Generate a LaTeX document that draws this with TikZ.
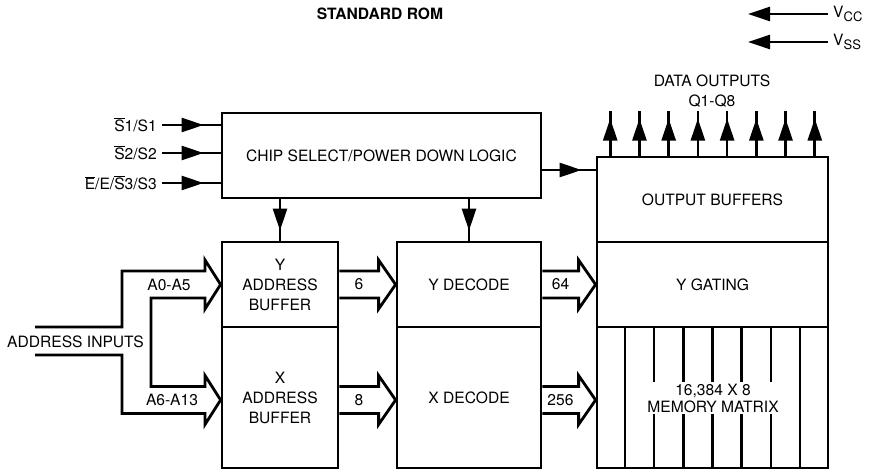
\documentclass[tikz,border=0pt]{standalone}
\usepackage{fontspec}
\setmainfont{TeX Gyre Heros}
\usetikzlibrary{arrows.meta, positioning, calc, decorations.markings}

% hollow bus arrow: from #1 to #2, node name #3, label #4
\newcommand{\busarrow}[4]{%
  \draw[bus] let \p1=(#1), \p2=(#2) in
    (\x1,\y2+13.5pt) -- (\x2-17pt,\y2+13.5pt) -- (\x2-17pt,\y2+24.5pt)
    -- (\x2,\y2) -- (\x2-17pt,\y2-24.5pt) -- (\x2-17pt,\y2-13.5pt)
    -- (\x1,\y2-13.5pt)
    node[lbl] (#3) at ({(\x1+\x2-17pt)/2},\y2) {#4};%
}

\begin{document}
\begin{tikzpicture}[x=1pt, y=-1pt,
    box/.style={draw, line width=2.8pt, inner sep=0pt, align=center,
      font=\fontsize{15.6}{20}\selectfont},
    lbl/.style={inner sep=5pt, align=center, font=\fontsize{15.6}{20}\selectfont},
    wire/.style={line width=2.6pt},
    bus/.style={line width=2.8pt, line join=miter},
    midtip/.style={postaction={decorate}, decoration={markings,
      mark=at position #1 with {\arrow{Triangle[length=22pt,width=14pt]}}}}
  ]
  \useasboundingbox (0,0) rectangle (883,474);

  \node[lbl, font=\bfseries\fontsize{15.6}{20}\selectfont] (title) at (380,14) {STANDARD ROM};

  % blocks
  \node[box, minimum width=319pt, minimum height=85pt] (csl) at (381.5,155.5)
    {\raisebox{-7pt}{CHIP SELECT/POWER DOWN LOGIC}};
  \node[box, minimum width=116pt, minimum height=85pt] (yab) at (280,284.5)
    {Y\\ADDRESS\\BUFFER};
  \node[box, minimum width=116pt, minimum height=141pt] (xab) at (280,397.5)
    {X\\ADDRESS\\BUFFER};
  \node[box, minimum width=144pt, minimum height=85pt] (ydec) at (469,284.5) {Y DECODE};
  \node[box, minimum width=144pt, minimum height=141pt] (xdec) at (469,397.5) {X DECODE};
  \node[box, minimum width=231pt, minimum height=85pt] (obuf) at (712.5,199.5) {OUTPUT BUFFERS};
  \node[box, minimum width=231pt, minimum height=85pt] (ygat) at (712.5,284.5) {Y GATING};
  \node[box, minimum width=231pt, minimum height=141pt] (mem) at (712.5,397.5) {};

  % memory columns
  \foreach \i in {1,...,7}
    \draw[wire] ($(mem.north west)!\i/8!(mem.north east)$) -- ($(mem.south west)!\i/8!(mem.south east)$);
  \node[lbl, fill=white, inner sep=2pt, font=\fontsize{15.6}{17}\selectfont] (memtxt) at (713,398)
    {16,384 X 8\\MEMORY MATRIX};

  % data outputs
  \foreach \i in {1,...,8}
    \draw[wire, midtip=-8pt] ($(obuf.north west)!{(\i-0.5)/8}!(obuf.north east)$) -- ++(0,-45);
  \node[lbl] (dout) at (712,91) {DATA OUTPUTS\\Q1-Q8};

  % chip select inputs
  \node[lbl, anchor=east] (sone) at (162,125) {$\overline{\mbox{S}}$1/S1};
  \node[lbl, anchor=east] (stwo) at (162,153) {$\overline{\mbox{S}}$2/S2};
  \node[lbl, anchor=east] (sthree) at (162,183) {$\overline{\mbox{E}}$/E/$\overline{\mbox{S}}$3/S3};
  \foreach \s in {sone,stwo,sthree}
    \draw[wire, midtip=-17pt] (\s.east) -- (\s.east -| csl.west);

  % power down lines
  \draw[wire, midtip=-10pt] (yab.north |- csl.south) -- (yab.north);
  \draw[wire, midtip=-10pt] (ydec.north |- csl.south) -- (ydec.north);
  \coordinate (cse) at ([yshift=-14.5pt]csl.east);
  \draw[wire, midtip=-14pt] (cse) -- (cse -| obuf.west);

  % internal buses
  \busarrow{yab.east}{ydec.west}{bsix}{6}
  \busarrow{[yshift=-2.5pt]xab.east}{[yshift=-2.5pt]xdec.west}{beight}{8}
  \busarrow{ydec.east}{ygat.west}{bsixtyfour}{64}
  \busarrow{[yshift=-2.5pt]xdec.east}{[yshift=-2.5pt]mem.west}{btwofiftysix}{256}

  % address inputs
  \coordinate (ain) at (35,341);
  \node[lbl, anchor=west, inner sep=0pt] (addr) at (7,342) {ADDRESS INPUTS};
  \draw[bus] ([yshift=14pt]ain) -- (122,327) -- (122,271) -- (205,271) -- (205,260)
    -- (yab.west) -- (205,309) -- (205,298) -- (151,298) -- (151,386.5) -- (205,386.5)
    -- (205,375.5) -- ([yshift=-2.5pt]xab.west) -- (205,424.5) -- (205,413.5) -- (122,413.5)
    -- (122,355) -- ([yshift=-14pt]ain);
  \node[lbl] (alo) at (169,284.5) {A0-A5};
  \node[lbl] (ahi) at (172,400) {A6-A13};

  % supplies
  \node[lbl, anchor=west] (vcc) at (828,14) {V\raisebox{-4pt}{\fontsize{13}{13}\selectfont CC}};
  \node[lbl, anchor=west] (vss) at (828,42) {V\raisebox{-4pt}{\fontsize{13}{13}\selectfont SS}};
  \draw[wire, -{Triangle[length=22pt,width=14pt]}] (vcc.west) -- ++(-80,0);
  \draw[wire, -{Triangle[length=22pt,width=14pt]}] (vss.west) -- ++(-80,0);
\end{tikzpicture}
\end{document}
